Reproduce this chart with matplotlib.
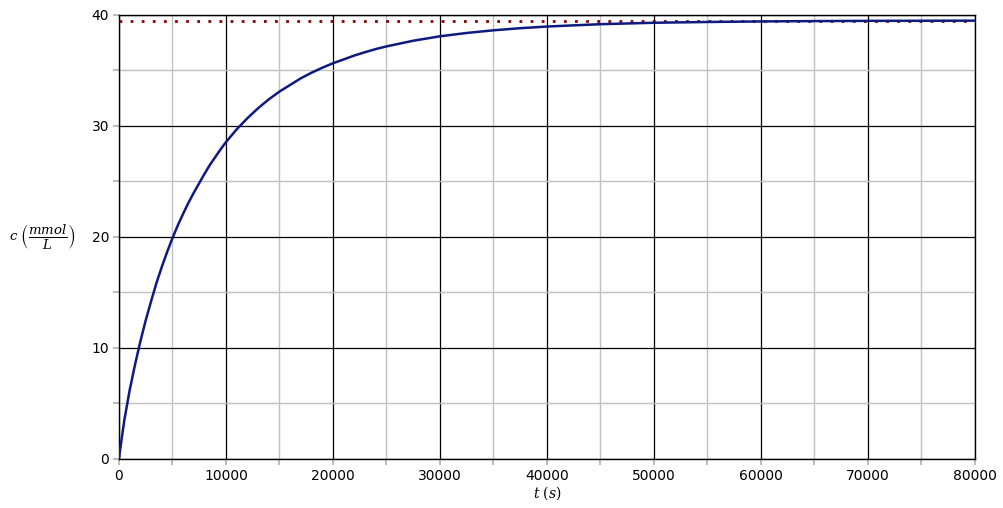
import numpy as np
import matplotlib
matplotlib.use("Agg")
import matplotlib.pyplot as plt
from matplotlib.ticker import MultipleLocator

# values
t_s = [0, 100, 250, 500, 1000, 1500, 2000, 2500, 3000, 3500, 4000, 4500, 5000, 5500,
       6000, 6500, 7000, 7500, 8000, 8500, 9000, 9500, 10000, 11000, 12000, 13000,
       14000, 15000, 16000, 17000, 18000, 19000, 20000, 21000, 22000, 23000, 24000,
       25000, 27500, 30000, 32500, 35000, 37500, 40000, 45000, 50000, 55000, 60000,
       65000, 70000, 75000, 80000]
c_mmol = [0, 0.8, 1.8, 3.5, 6.2, 8.5, 10.6, 12.5, 14.2, 15.85, 17.3, 18.65, 19.9, 21.05,
          22.1, 23.1, 24.0, 24.85, 25.7, 26.5, 27.2, 27.9, 28.55, 29.7, 30.7, 31.6,
          32.4, 33.1, 33.7, 34.3, 34.8, 35.25, 35.65, 36.0, 36.35, 36.65, 36.93,
          37.17, 37.68, 38.08, 38.38, 38.62, 38.81, 38.96, 39.17, 39.3, 39.37, 39.42,
          39.45, 39.47, 39.48, 39.49]
c_limit = 39.5
x_max = 80000
y_max = 40

plt.rcParams['font.family'] = ['DejaVu Sans']
plt.rcParams['mathtext.fontset'] = 'dejavuserif'

fig = plt.figure(figsize=(10.04, 5.08), dpi=100)
ax = fig.add_axes([0.1185, 0.0965, 0.8526, 0.874])

ax.plot([0, x_max], [c_limit, c_limit], color='#8b0000', lw=2, ls=(0, (1, 3)), zorder=3)
ax.plot(t_s, c_mmol, color='#0d1a80', lw=1.8, zorder=4)

ax.set_xlim(0, x_max)
ax.set_ylim(0, y_max)
ax.xaxis.set_major_locator(MultipleLocator(10000))
ax.xaxis.set_minor_locator(MultipleLocator(5000))
ax.yaxis.set_major_locator(MultipleLocator(10))
ax.yaxis.set_minor_locator(MultipleLocator(5))

ax.grid(which='minor', color='#c0c0c0', lw=1)
ax.grid(which='major', color='black', lw=0.9)
ax.set_axisbelow(True)
for s in ax.spines.values():
    s.set_color('black')
    s.set_linewidth(1)

ax.tick_params(which='both', direction='out', length=4, color='#b0b0b0', width=1.2,
               labelsize=10, pad=3)

ax.set_xlabel(r'$t\ (s)$', fontsize=10, labelpad=1)
ax.set_ylabel(r'$c\ \left(\dfrac{mmol}{L}\right)$', fontsize=9.5, rotation=0,
              ha='left', va='center')
ax.yaxis.set_label_coords(-0.128, 0.5)

fig.savefig('out.png', dpi=100)
